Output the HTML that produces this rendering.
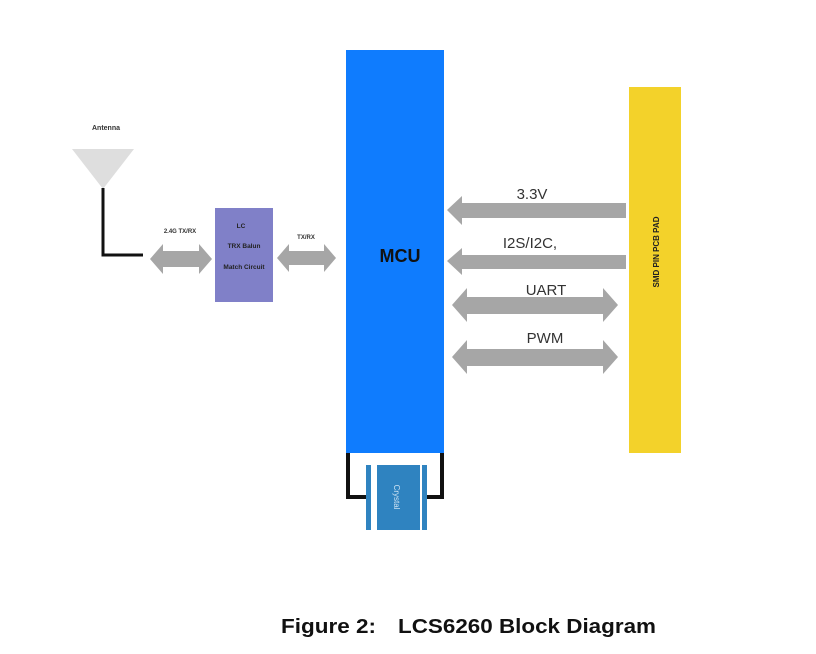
<!DOCTYPE html>
<html><head><meta charset="utf-8"><style>
body{margin:0;background:#fff;}
svg{display:block}
</style></head><body>
<svg width="816" height="654" viewBox="0 0 816 654" xmlns="http://www.w3.org/2000/svg" font-family="Liberation Sans, sans-serif">
<rect x="346" y="50" width="98" height="403" fill="#0f7cfe"/>
<text x="400" y="262" font-size="18" font-weight="bold" text-anchor="middle" fill="#111">MCU</text>
<rect x="629" y="87" width="52" height="366" fill="#f3d22a"/>
<text transform="translate(659,252) rotate(-90)" font-size="8" font-weight="bold" text-anchor="middle" fill="#222">SMD PIN PCB PAD</text>
<g fill="#a6a6a6">
<polygon points="447,210 462,196 462,203 626,203 626,218 462,218 462,225"/>
<polygon points="447,261 462,248 462,255 626,255 626,269 462,269 462,275"/>
<polygon points="452,305 467,288 467,297 603,297 603,288 618,305 603,322 603,314 467,314 467,322"/>
<polygon points="452,357 467,340 467,349 603,349 603,340 618,357 603,374 603,366 467,366 467,374"/>
</g>
<g font-size="15" fill="#333" text-anchor="middle">
<text x="532" y="199">3.3V</text>
<text x="530" y="248">I2S/I2C,</text>
<text x="546" y="295">UART</text>
<text x="545" y="343">PWM</text>
</g>
<text x="106" y="130" font-size="7" font-weight="bold" fill="#333" text-anchor="middle">Antenna</text>
<polygon points="72,149 134,149 103,189" fill="#dedede"/>
<polyline points="103,188 103,255 143,255" fill="none" stroke="#111" stroke-width="3"/>
<g fill="#a6a6a6">
<polygon points="150,259 163,244 163,251 199,251 199,244 212,259 199,274 199,267 163,267 163,274"/>
<polygon points="277,258 289,244 289,251 324,251 324,244 336,258 324,272 324,265 289,265 289,272"/>
</g>
<text x="180" y="233" font-size="6" font-weight="bold" fill="#333" text-anchor="middle">2.4G TX/RX</text>
<text x="306" y="239" font-size="6" font-weight="bold" fill="#333" text-anchor="middle">TX/RX</text>
<rect x="215" y="208" width="58" height="94" fill="#8080c8"/>
<g font-size="6.5" font-weight="bold" fill="#222" text-anchor="middle">
<text x="241" y="228">LC</text>
<text x="244" y="248">TRX Balun</text>
<text x="244" y="269">Match Circuit</text>
</g>
<polyline points="348,453 348,497 367,497" fill="none" stroke="#111" stroke-width="4"/>
<polyline points="442,453 442,497 423,497" fill="none" stroke="#111" stroke-width="4"/>
<rect x="366" y="465" width="5" height="65" fill="#2f83c0"/>
<rect x="377" y="465" width="43" height="65" fill="#2f83c0"/>
<rect x="422" y="465" width="5" height="65" fill="#2f83c0"/>
<text transform="translate(394,497) rotate(90)" font-size="8" fill="#cfe3f3" text-anchor="middle">Crystal</text>
<text x="281" y="633" font-size="20" font-weight="bold" fill="#111" textLength="95" lengthAdjust="spacingAndGlyphs">Figure 2:</text>
<text x="398" y="633" font-size="20" font-weight="bold" fill="#111" textLength="258" lengthAdjust="spacingAndGlyphs">LCS6260 Block Diagram</text>
</svg>
</body></html>
